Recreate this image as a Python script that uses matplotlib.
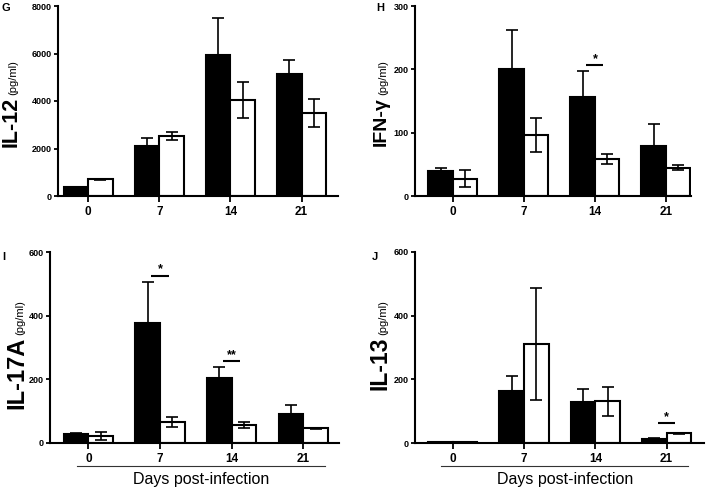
import matplotlib
matplotlib.use("Agg")
import matplotlib.pyplot as plt
import numpy as np
import matplotlib.transforms as mtransforms

plt.rcParams['font.family'] = ['Liberation Sans', 'DejaVu Sans']

days = ['0', '7', '14', '21']

# IL-12
il12_black = [380, 2095, 5930, 5120]
il12_black_err = [20, 365, 1550, 600]
il12_white = [703, 2517, 4035, 3501]
il12_white_err = [20, 160, 750, 580]

# IFN-gamma
ifn_black = [39.5, 201, 156.5, 79]
ifn_black_err = [5.3, 61, 40.5, 35]
ifn_white = [27, 96, 58.5, 45]
ifn_white_err = [13.5, 27, 8.5, 4.7]

# IL-17A
il17_black = [27, 379, 206, 90]
il17_black_err = [3, 127, 33, 28.5]
il17_white = [22, 67, 57, 46]
il17_white_err = [11.6, 16, 10, 2]

# IL-13
il13_black = [3, 165, 130, 13.5]
il13_black_err = [1, 46, 39, 2.5]
il13_white = [4, 310, 132, 31]
il13_white_err = [1, 175, 45, 1]

W, H = 708, 491
fig = plt.figure(figsize=(W / 100, H / 100), dpi=100)


def px(x, y):
    return x / W, 1 - y / H


def make_axes(left, right, top, bottom):
    return fig.add_axes([left / W, 1 - bottom / H, (right - left) / W, (bottom - top) / H])


panels = [
    dict(box=(58.3, 338.3, 6, 196), xlim=(-0.42, 3.515), ylim=8000, yticks=[0, 2000, 4000, 6000, 8000],
         black=il12_black, berr=il12_black_err, white=il12_white, werr=il12_white_err,
         letter='G', letter_pos=(2, 3), name='IL-12', name_size=15.5, label_pos=(16.5, 96),
         sig=[], xlabel=False),
    dict(box=(415, 690.7, 6, 196), xlim=(-0.535, 3.35), ylim=300, yticks=[0, 100, 200, 300],
         black=ifn_black, berr=ifn_black_err, white=ifn_white, werr=ifn_white_err,
         letter='H', letter_pos=(376, 3), name='IFN-γ', name_size=14, label_pos=(386, 96),
         sig=[(2, 206.6, '*')], xlabel=False),
    dict(box=(50, 339.3, 252.3, 443), xlim=(-0.535, 3.5), ylim=600, yticks=[0, 200, 400, 600],
         black=il17_black, berr=il17_black_err, white=il17_white, werr=il17_white_err,
         letter='I', letter_pos=(2, 252), name='IL-17A', name_size=17, label_pos=(23, 336),
         sig=[(1, 527, '*'), (2, 259, '**')], xlabel=True),
    dict(box=(415, 704, 251.7, 443.3), xlim=(-0.53, 3.525), ylim=600, yticks=[0, 200, 400, 600],
         black=il13_black, berr=il13_black_err, white=il13_white, werr=il13_white_err,
         letter='J', letter_pos=(372, 252), name='IL-13', name_size=16.5, label_pos=(386, 336),
         sig=[(3, 63, '*')], xlabel=True),
]

bw = 0.345
lw = 1.5
for p in panels:
    ax = make_axes(*p['box'])
    x = np.arange(len(days))
    ax.bar(x - bw / 2, p['black'], width=bw, color='black', edgecolor='black', linewidth=lw, zorder=2)
    ax.bar(x + bw / 2, p['white'], width=bw, color='white', edgecolor='black', linewidth=lw, zorder=2)
    ax.errorbar(x - bw / 2, p['black'], yerr=p['berr'], fmt='none', ecolor='black',
                elinewidth=1.2, capsize=4, capthick=1.2, zorder=3)
    ax.errorbar(x + bw / 2, p['white'], yerr=p['werr'], fmt='none', ecolor='black',
                elinewidth=1.2, capsize=4, capthick=1.2, zorder=3)
    ax.set_xlim(*p['xlim'])
    ax.set_ylim(0, p['ylim'])
    ax.set_xticks(x)
    ax.set_xticklabels(days, fontsize=8.5, fontweight='bold')
    ax.set_yticks(p['yticks'])
    ax.set_yticklabels([str(t) for t in p['yticks']], fontsize=6.5, fontweight='bold')
    ax.tick_params(axis='x', direction='out', length=4, width=1.3, pad=3)
    ax.tick_params(axis='y', direction='out', length=3, width=1.3, pad=1.5)
    for s in ['top', 'right']:
        ax.spines[s].set_visible(False)
    for s in ['left', 'bottom']:
        ax.spines[s].set_linewidth(1.5)
    for (i, yv, star) in p['sig']:
        ax.plot([i - 0.12, i + 0.12], [yv, yv], color='black', lw=1.5, solid_capstyle='butt',
                clip_on=False, zorder=3)
        ax.text(i, yv, star, ha='center', va='bottom', fontsize=9, fontweight='bold')
    if p['xlabel']:
        trans = mtransforms.blended_transform_factory(ax.transData, ax.transAxes)
        ax.plot([-0.16, 3.3], [-0.12, -0.12], color='#333333', lw=0.8, transform=trans, clip_on=False)
        ax.text(1.57, -0.15, 'Days post-infection', transform=trans, ha='center', va='top',
                fontsize=11.5)
    lx, ly = px(*p['letter_pos'])
    fig.text(lx, ly, p['letter'], ha='left', va='top', fontsize=8, fontweight='bold')
    bx, by = px(*p['label_pos'])
    fig.text(bx, by - 0.002, p['name'], rotation=90, rotation_mode='anchor', ha='right',
             va='baseline', fontsize=p['name_size'], fontweight='bold')
    fig.text(bx, by + 0.002, '(pg/ml)', rotation=90, rotation_mode='anchor', ha='left',
             va='baseline', fontsize=8)

fig.savefig('out.png', dpi=100)
